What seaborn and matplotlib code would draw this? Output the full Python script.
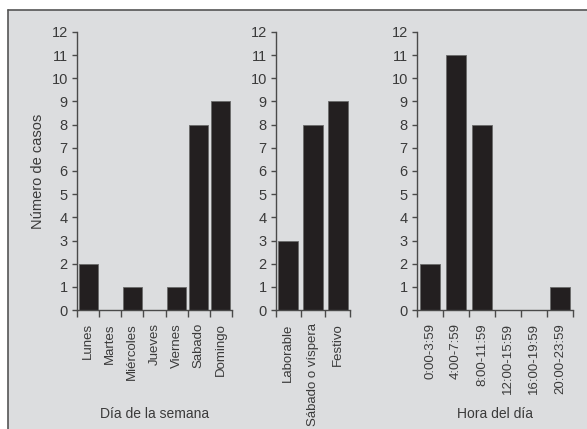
import numpy as np
import pandas as pd
import matplotlib
matplotlib.use("Agg")
import matplotlib.pyplot as plt
from matplotlib.patches import Rectangle
from matplotlib.lines import Line2D
import seaborn as sns

# Casos por día de la semana
dias = ["Lunes", "Martes", "Miércoles", "Jueves", "Viernes", "Sabado", "Domingo"]
casos_dia = [2, 0, 1, 0, 1, 8, 9]

# Casos por tipo de día
tipos = ["Laborable", "Sábado o víspera", "Festivo"]
casos_tipo = [3, 8, 9]

# Casos por franja horaria
horas = ["0:00-3:59", "4:00-7:59", "8:00-11:59", "12:00-15:59", "16:00-19:59", "20:00-23:59"]
casos_hora = [2, 11, 8, 0, 0, 1]

y_ticks = list(range(0, 13))

sns.set_theme(style="ticks")
plt.rcParams["font.family"] = ["Liberation Sans", "DejaVu Sans"]

BG = "#dcdddf"
INK = "#3a3a3a"
SPINE = "#4a4a4a"
BAR = "#231f20"

fig = plt.figure(figsize=(5.87, 4.29), dpi=100, facecolor="white")

# Gray panel with a border on top and left
x0, ytop = 8 / 587, 1 - 10 / 429
fig.patches.append(Rectangle((x0, 0), 1 - x0, ytop, transform=fig.transFigure,
                             facecolor=BG, edgecolor="none", zorder=-10))
fig.lines.append(Line2D([x0, 1], [ytop, ytop], transform=fig.transFigure,
                        color="#555555", lw=1.2))
fig.lines.append(Line2D([x0, x0], [0, ytop], transform=fig.transFigure,
                        color="#555555", lw=1.2))

bottom = 1 - 310 / 429
height = (310 - 32) / 429

panels = [
    (dias, casos_dia, 77 / 587, 155 / 587, 0.86, "Día de la semana"),
    (tipos, casos_tipo, 276 / 587, 74 / 587, 0.80, None),
    (horas, casos_hora, 417 / 587, 156 / 587, 0.74, "Hora del día"),
]

for i, (cats, vals, left, width, bw, xlabel) in enumerate(panels):
    ax = fig.add_axes([left, bottom, width, height])
    ax.set_facecolor("none")
    df = pd.DataFrame({"cat": cats, "n": vals})
    sns.barplot(data=df, x="cat", y="n", order=cats, color=BAR, saturation=1,
                width=bw, edgecolor="#6a6a6a", linewidth=0.6, ax=ax)
    n = len(cats)
    ax.set_xlim(-0.5, n - 0.5)
    ax.set_ylim(0, 12)
    ax.set_yticks(y_ticks)
    ax.set_yticklabels([str(t) for t in y_ticks])
    # labels centred on the bars, tick marks on category boundaries
    ax.set_xticks(np.arange(n))
    ax.set_xticklabels(cats, rotation=90, va="top", ha="center")
    ax.set_xticks(np.arange(n + 1) - 0.5, minor=True)
    ax.tick_params(axis="x", which="major", length=0, pad=9.5,
                   labelsize=9.5, labelcolor=INK)
    ax.tick_params(axis="x", which="minor", length=5, width=1.0,
                   color=SPINE, direction="out")
    ax.tick_params(axis="y", length=3.6, width=1.0, color=SPINE, pad=3,
                   labelsize=10.5, labelcolor=INK)
    for side in ("top", "right"):
        ax.spines[side].set_visible(False)
    for side in ("left", "bottom"):
        ax.spines[side].set_color(SPINE)
        ax.spines[side].set_linewidth(1.0)
    ax.set_ylabel("Número de casos" if i == 0 else "", fontsize=10.5, color=INK,
                  labelpad=5)
    ax.set_xlabel("")
    if xlabel:
        ax.text(0.5, (1 - 414 / 429 - bottom) / height, xlabel,
                transform=ax.transAxes, ha="center", va="center",
                fontsize=10, color=INK)

fig.savefig("out.png", dpi=100, facecolor="white")
